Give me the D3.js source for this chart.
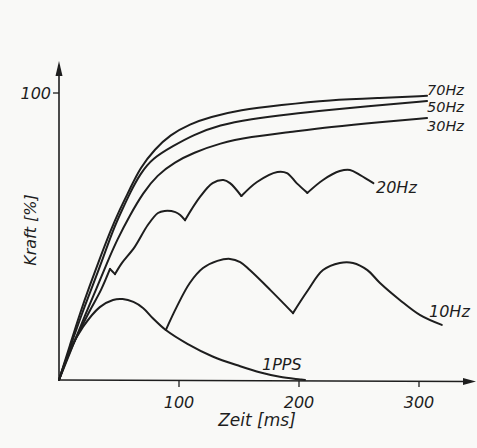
<!DOCTYPE html>
<html><head><meta charset="utf-8">
<script src="https://cdn.jsdelivr.net/npm/d3@7"></script>
<style>body{margin:0;background:#f9f9f7;} svg{display:block;}</style>
</head><body>
<svg id="c" width="477" height="448"></svg>
<script>
// time [ms], force [%]
const hz70 = [[0,0],[9.2,12.2],[17.5,23.3],[25.8,33.1],[34.2,42.5],[42.5,51.6],[50.8,59.6],[59.2,66.6],[67.5,73.9],[80,80.5],[92.5,85.4],[109.2,89.2],[125.8,91.6],[150.8,94.1],[184.2,95.8],[225.8,97.6],[267.5,98.3],[306.7,99.0]];
const hz50 = [[0,0],[10,12.2],[19.2,23.3],[28.3,33.1],[36.7,42.5],[45,52.3],[52.5,59.2],[59.2,65.2],[67.5,71.8],[78.3,77.4],[95,81.5],[111.7,85.4],[134.2,88.9],[159.2,90.9],[192.5,92.7],[225.8,94.1],[267.5,95.8],[306.7,97.2]];
const hz30 = [[0,0],[11.7,12.2],[21.7,22.6],[30.8,31.4],[40,40.8],[48.3,48.8],[59.2,57.5],[70,65.2],[81.7,71.4],[96.7,76.0],[111.7,79.1],[134.2,82.6],[159.2,84.7],[192.5,86.4],[225.8,88.2],[267.5,89.9],[306.7,91.3]];
const hz20 = [[0,0],[9,9.8],[17.5,17.4],[26,24.4],[35,31.4],[42.5,38.7],[46.7,36.9],[52.5,40.8],[63,46.3],[74,54.0],[82.5,58.2],[88,58.9],[97,58.5],[101,57.5],[105,55.7],[117.5,63.8],[128,68.6],[137,69.7],[142.5,68.6],[152,64.1],[165,69.0],[182,72.5],[190,72.1],[198,68.6],[207,65.2],[220,69.7],[234,72.8],[242.5,73.2],[251,71.4],[262,68.6]];
const hz20Cusps = [42.5,46.7,105,152,207];
const hz10 = [[89,17.4],[98,25.4],[109,33.8],[120,39.0],[132,41.5],[142.5,42.2],[151,41.1],[159,38.3],[176,31.4],[195,23.3],[207,31.0],[220,38.3],[234,40.8],[245,40.8],[257,38.3],[267.5,33.8],[284,27.9],[301,22.6],[319,19.2]];
const hz10Cusps = [195];
const pps1 = [[0,0],[9.2,10.5],[20,18.5],[34,25.4],[45,27.9],[53,28.2],[62,27.2],[70,25.1],[78,21.6],[89,17.4],[107,12.6],[128,8.2],[151,4.8],[168,2.6],[184,1.1],[201,0.2],[205,0]];
const xTicks = [100,200,300];
const yTicks = [100];
const labels = ["70Hz","50Hz","30Hz","20Hz","10Hz","1PPS"];

const svg = d3.select("#c");
const x = d3.scaleLinear().domain([0,300]).range([59,419]);
const y = d3.scaleLinear().domain([0,100]).range([380,93]);
const ink = "#1e1e1e";
const font = "'DejaVu Sans', sans-serif";

// axes lines with arrows
svg.append("line").attr("x1",x(0)).attr("y1",y(0)).attr("x2",x(0)).attr("y2",70)
  .attr("stroke",ink).attr("stroke-width",1.6);
svg.append("path").attr("d",`M${x(0)},61 L${x(0)-3.5},76 L${x(0)+3.5},76 Z`).attr("fill",ink);
svg.append("line").attr("x1",x(0)).attr("y1",y(0)).attr("x2",468).attr("y2",y(0)+1.5)
  .attr("stroke",ink).attr("stroke-width",1.4);
svg.append("path").attr("d",`M476,${y(0)+1.5} L463,${y(0)-2} L463,${y(0)+5} Z`).attr("fill",ink);

// ticks
xTicks.forEach(t=>{
  svg.append("line").attr("x1",x(t)).attr("x2",x(t)).attr("y1",y(0)+1).attr("y2",y(0)+7)
    .attr("stroke",ink).attr("stroke-width",1.3);
  svg.append("text").attr("x",x(t)).attr("y",408).attr("text-anchor","middle")
    .attr("font-family",font).attr("font-style","italic").attr("font-size",16).attr("fill",ink).text(t);
});
yTicks.forEach(v=>{
  svg.append("line").attr("x1",x(0)-6).attr("x2",x(0)).attr("y1",y(v)).attr("y2",y(v))
    .attr("stroke",ink).attr("stroke-width",1.3);
  svg.append("text").attr("x",x(0)-8).attr("y",y(v)+6).attr("text-anchor","end")
    .attr("font-family",font).attr("font-style","italic").attr("font-size",16).attr("fill",ink).text(v);
});

svg.append("text").attr("x",257).attr("y",426).attr("text-anchor","middle")
  .attr("font-family",font).attr("font-style","italic").attr("font-size",17).attr("fill",ink).text("Zeit [ms]");
svg.append("text").attr("transform","translate(36,230) rotate(-90)").attr("text-anchor","middle")
  .attr("font-family",font).attr("font-style","italic").attr("font-size",16).attr("fill",ink).text("Kraft [%]");

// curves, split at cusps
const lineCR = d3.line().x(d=>x(d[0])).y(d=>y(d[1])).curve(d3.curveCatmullRom.alpha(0.5));
const lineSmooth = d3.line().x(d=>x(d[0])).y(d=>y(d[1])).curve(d3.curveBasis);
function drawSeries(data, cusps, gen){
  let segs=[[]];
  data.forEach(p=>{
    segs[segs.length-1].push(p);
    if(cusps.includes(p[0])) segs.push([p]);
  });
  segs.filter(s=>s.length>1).forEach(s=>{
    svg.append("path").attr("d",gen(s)).attr("fill","none").attr("stroke",ink)
      .attr("stroke-width",2).attr("stroke-linejoin","round").attr("stroke-linecap","round");
  });
}
drawSeries(hz70,[],lineSmooth);
drawSeries(hz50,[],lineSmooth);
drawSeries(hz30,[],lineSmooth);
drawSeries(hz20,hz20Cusps,lineCR);
drawSeries(hz10,hz10Cusps,lineCR);
drawSeries(pps1,[],lineCR);

const lab = (txt,px,py,fs)=>svg.append("text").attr("x",px).attr("y",py)
  .attr("font-family",font).attr("font-style","italic").attr("font-size",fs).attr("fill",ink).text(txt);
lab(labels[0],427,95,14.5);
lab(labels[1],427,112,14.5);
lab(labels[2],427,131,14.5);
lab(labels[3],376,193,16);
lab(labels[4],429,317,16);
lab(labels[5],262,370,16);
</script>
</body></html>
